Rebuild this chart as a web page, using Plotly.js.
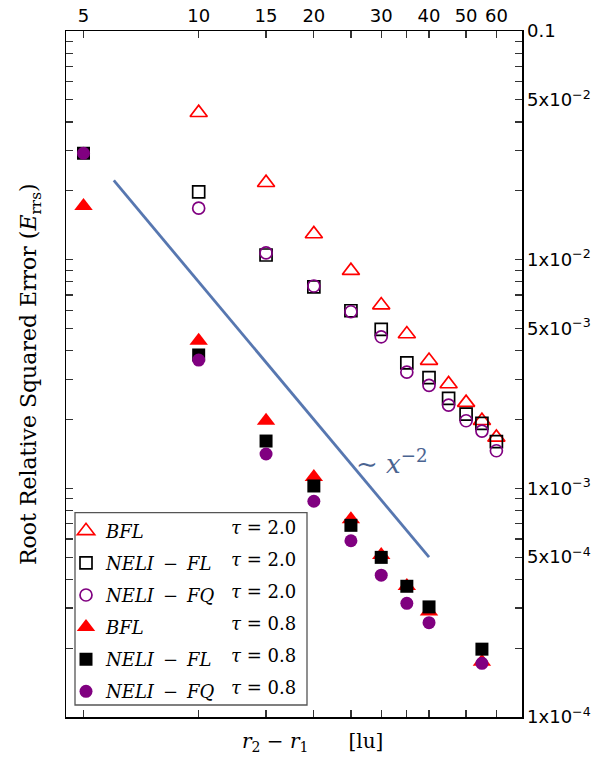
<!DOCTYPE html>
<html><head><meta charset="utf-8">
<script src="https://cdn.plot.ly/plotly-3.0.1.min.js"></script>
<style>html,body{margin:0;padding:0;background:#fff}#chart{width:616px;height:759px}</style>
</head><body><div id="chart"></div>
<script>
// ---- data ----
const xTau2 = [10, 15, 20, 25, 30, 35, 40, 45, 50, 55, 60];
const bflTau2 = [0.0439, 0.0217, 0.01295, 0.00895, 0.00633, 0.00473, 0.00362, 0.00286, 0.00237, 0.001975, 0.00167];
const neliFlTau2 = [0.0198, 0.01048, 0.0076, 0.00598, 0.00496, 0.00354, 0.00305, 0.002475, 0.00211, 0.001925, 0.0016];
const neliFqTau2 = [0.0168, 0.0107, 0.00767, 0.00592, 0.0046, 0.00322, 0.00282, 0.00231, 0.001975, 0.00178, 0.00146];
const xTau08 = [5, 10, 15, 20, 25, 30, 35, 40, 55];
const bflTau08 = [0.01717, 0.00442, 0.001975, 0.00112, 0.000732, 0.000511, 0.000374, 0.000289, 0.0001745];
const neliFlTau08 = [0.0292, 0.00383, 0.00161, 0.001024, 0.000689, 0.000499, 0.000373, 0.000303, 0.000198];
const neliFqTau08 = [0.0292, 0.00364, 0.001413, 0.000878, 0.00059, 0.000417, 0.000314, 0.0002585, 0.0001717];
const guideX = [6, 40];
const guideY = [0.0222, 0.0005];
const seriesNames = ['<i>BFL</i>', '<i>NELI</i>\u2002−\u2002<i>FL</i>', '<i>NELI</i>\u2002−\u2002<i>FQ</i>', '<i>BFL</i>', '<i>NELI</i>\u2002−\u2002<i>FL</i>', '<i>NELI</i>\u2002−\u2002<i>FQ</i>'];
const tauLabels = ['2.0', '2.0', '2.0', '0.8', '0.8', '0.8'];
const xTickVals = [5, 10, 15, 20, 30, 40, 50, 60];
const xTickText = ['5', '10', '15', '20', '30', '40', '50', '60'];
const xMinorVals = [25, 35];
const yTickVals = [1e-4, 5e-4, 1e-3, 5e-3, 1e-2, 5e-2, 0.1];
const yTickText = ['1x10<sup>−4</sup>', '5x10<sup>−4</sup>', '1x10<sup>−3</sup>', '5x10<sup>−3</sup>', '1x10<sup>−2</sup>', '5x10<sup>−2</sup>', '0.1'];
const yMinorMantissas = [2, 3, 4, 6, 7, 8, 9];

// ---- unlabelled y ticks: the remaining mantissas of every decade ----
const yMinorVals = [];
for (let e = -4; e <= -2; e++) {
  yMinorMantissas.forEach(m => yMinorVals.push(+(m * Math.pow(10, e)).toPrecision(6)));
}

const RED = '#ff0000', BLACK = '#000000', PURPLE = '#800080';
const SERIF = 'DejaVu Serif, Liberation Serif, serif';

function mk(x, y, name, symbol, color, size, open, grp) {
  return {
    type: 'scatter', mode: 'markers', x: x, y: y, name: name, legendgroup: grp,
    marker: open ? {symbol: symbol, color: color, size: size, line: {color: color, width: 1.7}}
                 : {symbol: symbol, color: color, size: size, line: {width: 0}}
  };
}

const traces = [
  mk(xTau2, bflTau2, seriesNames[0], 'triangle-up-open', RED, 15, true, 'g1'),
  mk(xTau2, neliFlTau2, seriesNames[1], 'square-open', BLACK, 12, true, 'g2'),
  mk(xTau2, neliFqTau2, seriesNames[2], 'circle-open', PURPLE, 12, true, 'g3'),
  mk(xTau08, bflTau08, seriesNames[3], 'triangle-up', RED, 16, false, 'g4'),
  mk(xTau08, neliFlTau08, seriesNames[4], 'square', BLACK, 13, false, 'g5'),
  mk(xTau08, neliFqTau08, seriesNames[5], 'circle', PURPLE, 13, false, 'g6'),
  {type: 'scatter', mode: 'lines', x: guideX, y: guideY, showlegend: false, hoverinfo: 'skip',
   line: {color: '#5777b0', width: 2.8}}
];

// ---- geometry (pixels) ----
const W = 616, H = 759, mL = 66, mR = 94, mT = 31, mB = 42;
const pw = W - mL - mR, ph = H - mT - mB;
const px2x = p => (p - mL) / pw;
const px2y = p => (H - mB - p) / ph;
const rowTop = 527.3, rowGap = 32.1;

const annotations = [
  {xref: 'paper', yref: 'paper', x: px2x(30), y: 0.5, textangle: -90, showarrow: false,
   xanchor: 'center', yanchor: 'middle',
   text: 'Root Relative Squared Error (<i>E</i><sub>rrs</sub>)',
   font: {family: SERIF, size: 22, color: '#000'}},
  {xref: 'paper', yref: 'paper', x: px2x(312), y: px2y(742), showarrow: false,
   xanchor: 'center', yanchor: 'middle',
   text: '<i>r</i><sub>2</sub> − <i>r</i><sub>1</sub>\u2003\u2003[lu]',
   font: {family: SERIF, size: 20, color: '#000'}},
  {xref: 'paper', yref: 'paper', x: px2x(354), y: px2y(462), showarrow: false,
   xanchor: 'left', yanchor: 'middle',
   text: '∼ <i>x</i><sup>−2</sup>',
   font: {family: SERIF, size: 26, color: '#4a6491'}}
];
tauLabels.forEach((t, i) => {
  annotations.push({xref: 'paper', yref: 'paper', x: px2x(229), y: px2y(rowTop + rowGap * i),
    showarrow: false, xanchor: 'left', yanchor: 'middle',
    text: '<i>τ</i> = ' + t, font: {family: SERIF, size: 18, color: '#000'}});
});

const axisCommon = {
  type: 'log', tickmode: 'array', ticks: 'inside', ticklen: 7, tickwidth: 1.2, tickcolor: '#333',
  showline: true, linecolor: '#000', linewidth: 1.5, mirror: 'ticks', showgrid: false, zeroline: false,
  tickfont: {family: 'DejaVu Sans', size: 18, color: '#000'}
};

const layout = {
  width: W, height: H,
  margin: {l: mL, r: mR, t: mT, b: mB, pad: 0},
  paper_bgcolor: '#fff', plot_bgcolor: '#fff',
  showlegend: true,
  font: {family: 'DejaVu Sans', size: 18, color: '#000'},
  xaxis: Object.assign({}, axisCommon, {
    range: [Math.log10(4.5), Math.log10(70)], side: 'top',
    tickvals: xTickVals, ticktext: xTickText,
    minor: {tickmode: 'array', tickvals: xMinorVals, ticks: 'inside', ticklen: 7, tickwidth: 1.2, tickcolor: '#333', showgrid: false}
  }),
  yaxis: Object.assign({}, axisCommon, {
    range: [-4, -1], side: 'right',
    tickvals: yTickVals, ticktext: yTickText,
    minor: {tickmode: 'array', tickvals: yMinorVals, ticks: 'inside', ticklen: 7, tickwidth: 1.2, tickcolor: '#333', showgrid: false}
  }),
  legend: {
    x: px2x(66), y: px2y(512.6), xanchor: 'left', yanchor: 'top',
    bgcolor: 'rgba(0,0,0,0)', borderwidth: 0, traceorder: 'grouped', tracegroupgap: 5.7,
    font: {family: SERIF, size: 18, color: '#000'}, itemwidth: 30
  },
  shapes: [{type: 'rect', xref: 'paper', yref: 'paper', layer: 'above',
    x0: px2x(75), x1: px2x(307), y0: px2y(705), y1: px2y(512.7),
    line: {color: '#555', width: 1.3}, fillcolor: 'rgba(0,0,0,0)'}],
  annotations: annotations
};

Plotly.newPlot('chart', traces, layout, {displayModeBar: false, staticPlot: true});
</script>
</body></html>
